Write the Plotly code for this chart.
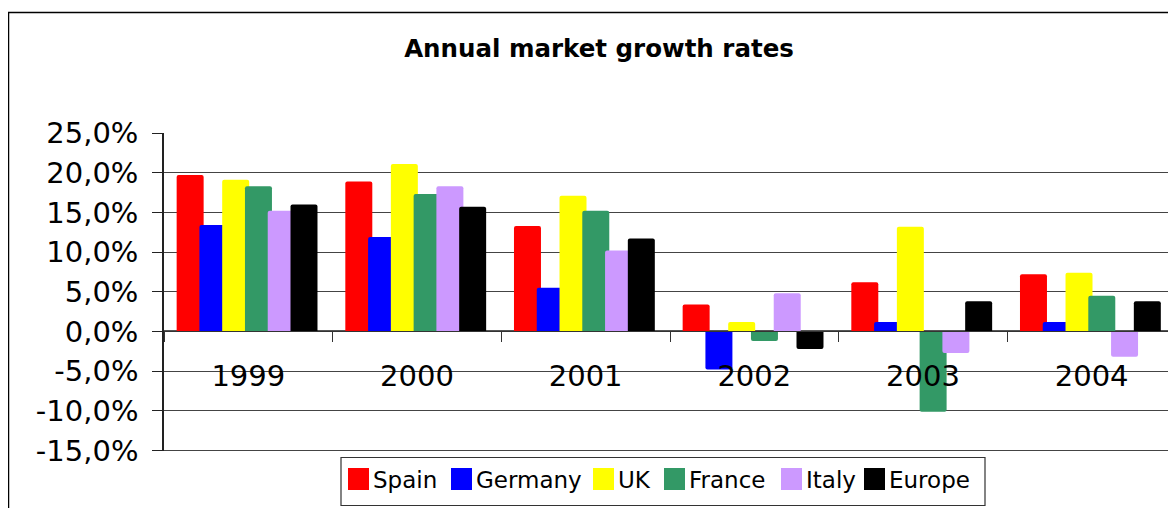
import plotly.graph_objects as go

years = ["1999", "2000", "2001", "2002", "2003", "2004"]
spain = [19.7, 18.9, 13.3, 3.4, 6.2, 7.2]
germany = [13.4, 11.9, 5.5, -4.8, 1.2, 1.2]
uk = [19.1, 21.1, 17.1, 1.2, 13.2, 7.4]
france = [18.3, 17.3, 15.2, -1.2, -10.1, 4.5]
italy = [15.2, 18.3, 10.2, 4.8, -2.7, -3.2]
europe = [16.0, 15.7, 11.7, -2.2, 3.8, 3.8]

series_names = ["Spain", "Germany", "UK", "France", "Italy", "Europe"]
series_values = [spain, germany, uk, france, italy, europe]
series_colors = ["#FF0000", "#0000FF", "#FFFF00", "#339966", "#CC99FF", "#000000"]

tick_values = [-15, -10, -5, 0, 5, 10, 15, 20, 25]
tick_labels = ["-15,0%", "-10,0%", "-5,0%", "0,0%", "5,0%", "10,0%", "15,0%", "20,0%", "25,0%"]

FONT = "DejaVu Sans"
OFF = 8  # page body margin
W, H = 1176 - OFF, 508 - OFF
# plot area in reference screen pixels
L, R, T, B = 164, 1176, 133, 451
YMIN, YMAX = -15.06, 25.0


def px(x):
    return (x - L) / (R - L)


def py(y):
    return (B - y) / (B - T)


fig = go.Figure()
bar_w = 0.16
step = 0.135
first = -0.425
for i, (name, vals, col) in enumerate(zip(series_names, series_values, series_colors)):
    fig.add_trace(go.Bar(
        x=years, y=vals, name=name,
        marker=dict(color=col, line=dict(width=0), cornerradius=2),
        width=bar_w, offset=first + i * step,
        showlegend=False,
    ))

shapes = []
annotations = []

# bottom gridline (plotly drops the one on the plot edge)
shapes.append(dict(type="line", xref="paper", yref="y", x0=0, x1=1,
                   y0=tick_values[0], y1=tick_values[0],
                   line=dict(color="#444", width=1.2), layer="below"))

# chart border
shapes.append(dict(type="rect", xref="paper", yref="paper",
                   x0=px(8.5), x1=px(1190), y0=py(12.5), y1=py(520),
                   line=dict(color="black", width=1.5), fillcolor="rgba(0,0,0,0)"))

# legend box
shapes.append(dict(type="rect", xref="paper", yref="paper",
                   x0=px(341), x1=px(985), y0=py(457.5), y1=py(505.5),
                   line=dict(color="#333", width=1.2), fillcolor="white"))
sq_x = [348, 451, 593, 664, 781, 864]
for sx, name, col in zip(sq_x, series_names, series_colors):
    shapes.append(dict(type="rect", xref="paper", yref="paper",
                       x0=px(sx), x1=px(sx + 21), y0=py(468), y1=py(490),
                       line=dict(width=0), fillcolor=col))
    annotations.append(dict(xref="paper", yref="paper", x=px(sx + 24), y=py(480),
                            xanchor="left", yanchor="middle", text=name, showarrow=False,
                            borderpad=0,
                            font=dict(family=FONT, size=23, color="black")))

fig.update_layout(
    width=W, height=H,
    margin=dict(l=L - OFF, r=(1176 - OFF) - (R - OFF), t=T - OFF, b=(508 - OFF) - (B - OFF), pad=0),
    paper_bgcolor="white", plot_bgcolor="white",
    barmode="overlay",
    title=dict(text="Annual market growth rates", xref="container", yref="container",
               x=(599 - OFF) / W, y=1 - (48 - OFF) / H, xanchor="center", yanchor="middle",
               font=dict(family=FONT, size=24.5, color="black", weight="bold")),
    xaxis=dict(
        type="category", range=[-0.5, 5.5],
        anchor="free", position=(0 - YMIN) / (YMAX - YMIN),
        showline=True, linecolor="#333", linewidth=1,
        ticks="outside", tickson="boundaries", ticklen=10, tickcolor="#333",
        tickfont=dict(family=FONT, size=29, color="black"),
        ticklabelstandoff=19,
        showgrid=False, zeroline=False,
    ),
    yaxis=dict(
        range=[YMIN, YMAX], tickvals=tick_values, ticktext=tick_labels,
        showline=True, linecolor="#222", linewidth=1.5,
        ticks="outside", ticklen=10, tickcolor="#222",
        tickfont=dict(family=FONT, size=29, color="black"),
        ticklabelstandoff=8,
        showgrid=True, gridcolor="#444", gridwidth=1.2,
        zeroline=True, zerolinecolor="#555", zerolinewidth=1.5,
    ),
    shapes=shapes,
    annotations=annotations,
)

fig.write_html("out.html")
